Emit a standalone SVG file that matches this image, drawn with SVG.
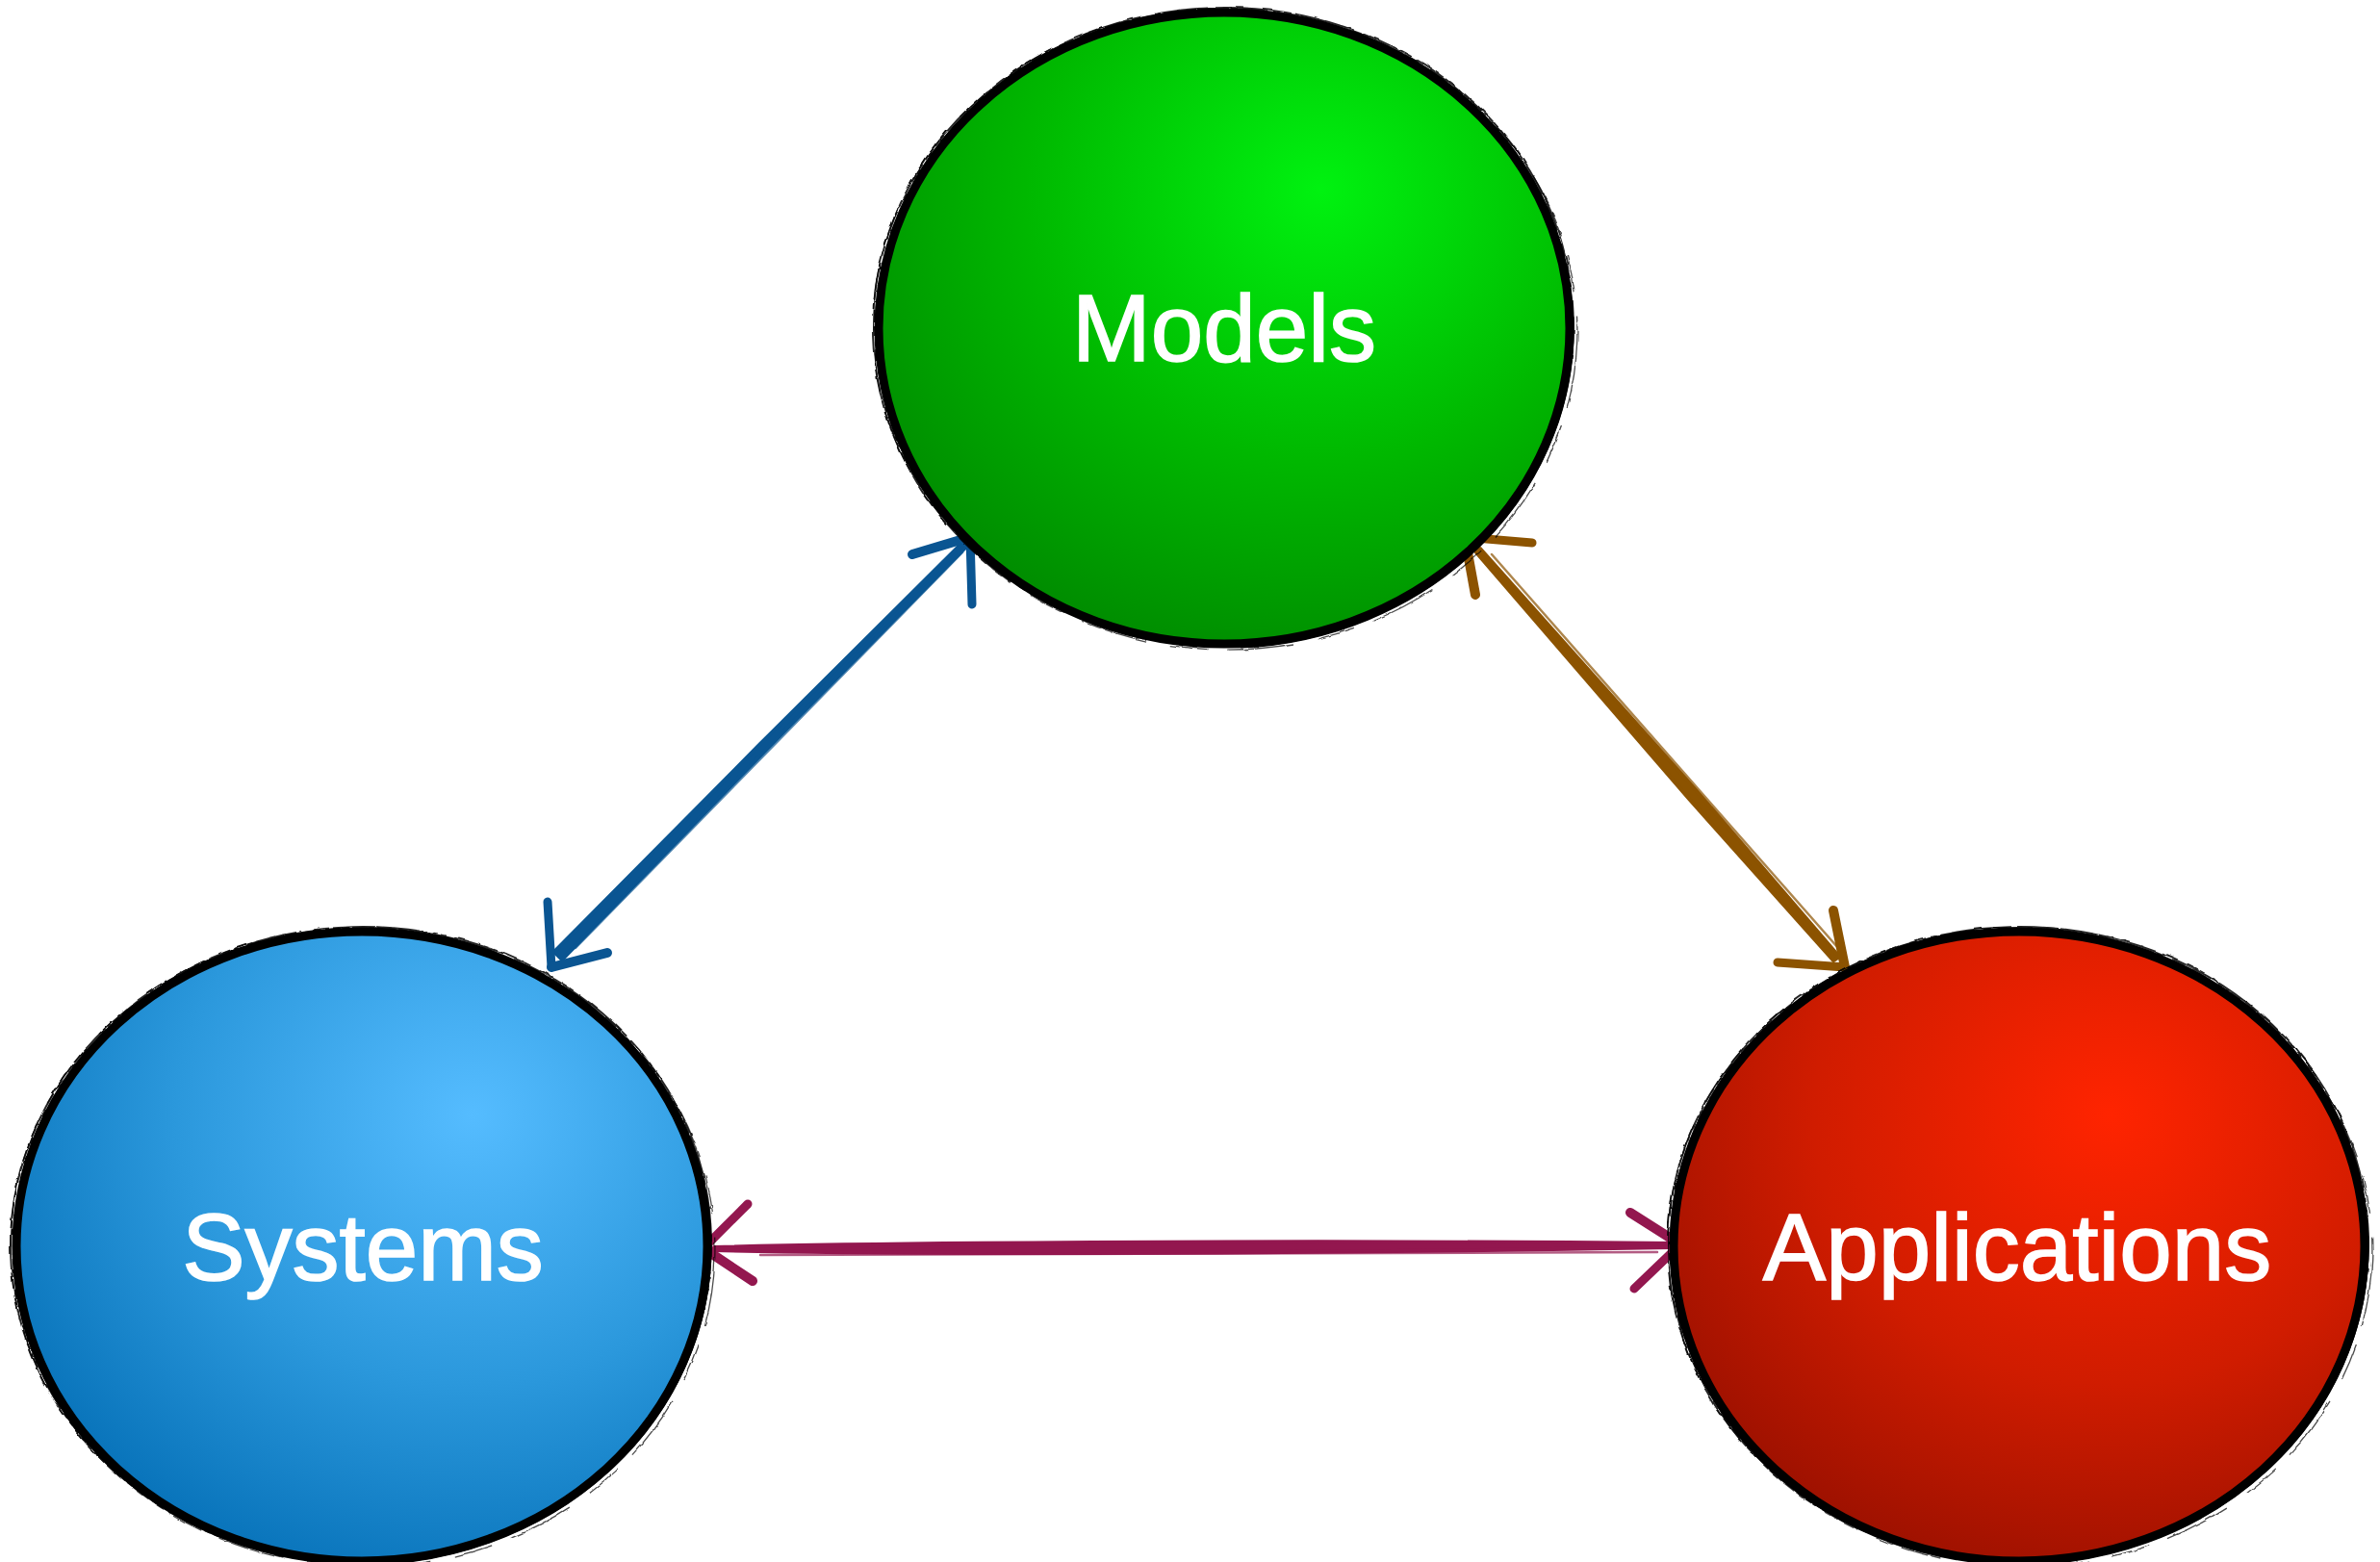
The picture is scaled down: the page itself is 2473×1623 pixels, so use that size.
<svg xmlns="http://www.w3.org/2000/svg" width="2473" height="1623" viewBox="0 0 2473 1623">
  <defs>
    <!-- glossy sphere fills, highlight up and to the right -->
    <radialGradient id="gGreen" cx="0.64" cy="0.28" fx="0.64" fy="0.28" r="0.78">
      <stop offset="0" stop-color="#00f210"/>
      <stop offset="0.55" stop-color="#00b800"/>
      <stop offset="1" stop-color="#008a00"/>
    </radialGradient>
    <radialGradient id="gBlue" cx="0.66" cy="0.29" fx="0.66" fy="0.29" r="0.78">
      <stop offset="0" stop-color="#55bcff"/>
      <stop offset="0.55" stop-color="#2b98dc"/>
      <stop offset="1" stop-color="#0772b9"/>
    </radialGradient>
    <radialGradient id="gRed" cx="0.63" cy="0.29" fx="0.63" fy="0.29" r="0.78">
      <stop offset="0" stop-color="#ff2400"/>
      <stop offset="0.55" stop-color="#d01c00"/>
      <stop offset="1" stop-color="#991000"/>
    </radialGradient>
    <!-- scribbly jitter for the thin outline hairs -->
    <filter id="rough" x="-5%" y="-5%" width="110%" height="110%">
      <feTurbulence type="fractalNoise" baseFrequency="0.08" numOctaves="2" seed="3" result="n"/>
      <feDisplacementMap in="SourceGraphic" in2="n" scale="4" xChannelSelector="R" yChannelSelector="G"/>
    </filter>
  </defs>
  <style>
    .fillshape { stroke: none; }
    .rim { fill: none; stroke: #000; stroke-width: 9; }
    .rim2 { fill: none; stroke: #000; stroke-width: 2; opacity: 0.85; }
    .rim3 { fill: none; stroke: #000; stroke-width: 1.3; stroke-dasharray: 70 20 40 25; opacity: 0.7; }
    .shade { fill: none; stroke: #000; stroke-width: 5; stroke-linecap: round; }
    .label { font-family: "Liberation Sans", Arial, Helvetica, sans-serif; font-size: 98px; fill: #fff; stroke: #fff; stroke-width: 1.6; text-anchor: middle; }
    .stroke { fill: none; stroke-linecap: round; stroke-linejoin: round; }
    .body { stroke-width: 4; stroke-linejoin: round; }
    .blue { stroke: #0a5592; }
    .brown { stroke: #8c5300; }
    .plum { stroke: #93174f; }
  </style>

  <rect width="2473" height="1623" fill="#fff"/>

  <!-- connectors: tapered brush strokes with open double heads -->
  <g id="connectors">
    <g id="systems-models" class="stroke blue">
      <path class="body" fill="#0a5592" d="M576 989 L790 773 L1000 564 L1004 568 L795 780 L584 997 Z"/>
      <path d="M598 985 L1000 574" stroke-width="2.5" opacity="0.7"/>
      <path d="M1008 558 L948 576" stroke-width="10"/>
      <path d="M1008 558 L1010 628" stroke-width="9"/>
      <path d="M573 1005 L569 937" stroke-width="9"/>
      <path d="M573 1005 L631 990" stroke-width="10"/>
    </g>
    <g id="models-applications" class="stroke brown">
      <path class="body" fill="#8c5300" d="M1538 570 L1763 822 L1911 994 L1905 998 L1755 830 L1534 574 Z"/>
      <path d="M1550 576 L1910 985" stroke-width="2.5" opacity="0.7"/>
      <path d="M1522 558 L1592 564" stroke-width="9"/>
      <path d="M1522 558 L1533 618" stroke-width="10"/>
      <path d="M1917 1005 L1905 946" stroke-width="10"/>
      <path d="M1917 1005 L1847 1000" stroke-width="9"/>
    </g>
    <g id="systems-applications" class="stroke plum">
      <path class="body" fill="#93174f" d="M742 1296 C900 1292 1300 1288 1738 1292 L1738 1296 C1300 1304 900 1303 742 1299 Z"/>
      <path d="M790 1304 C1050 1303 1350 1301 1722 1301" stroke-width="2.5" opacity="0.7"/>
      <path d="M731 1297 L777 1251" stroke-width="9"/>
      <path d="M731 1297 L782 1331" stroke-width="10"/>
      <path d="M1746 1293 L1694 1260" stroke-width="10"/>
      <path d="M1746 1293 L1698 1339" stroke-width="9"/>
    </g>
  </g>

  <!-- Models -->
  <g id="models">
    <ellipse class="fillshape" cx="1272" cy="341" rx="358" ry="327" fill="url(#gGreen)"/>
    <ellipse class="rim" cx="1272" cy="341" rx="359" ry="328"/>
    <path class="shade" d="M1633 330 A361 330 0 0 1 1290 671"/>
    <g filter="url(#rough)">
      <ellipse class="rim2" cx="1271" cy="339" rx="364" ry="331" transform="rotate(-1.5 1272 341)"/>
      <ellipse class="rim3" cx="1273" cy="342" rx="366" ry="333" transform="rotate(2 1272 341)"/>
    </g>
    <text class="label" x="1272" y="375">Models</text>
  </g>

  <!-- Systems -->
  <g id="systems">
    <ellipse class="fillshape" cx="376" cy="1295" rx="358" ry="326" fill="url(#gBlue)"/>
    <ellipse class="rim" cx="376" cy="1295" rx="359" ry="327"/>
    <path class="shade" d="M737 1285 A361 329 0 0 1 395 1623"/>
    <g filter="url(#rough)">
      <ellipse class="rim2" cx="375" cy="1293" rx="364" ry="330" transform="rotate(-1.5 376 1295)"/>
      <ellipse class="rim3" cx="377" cy="1296" rx="366" ry="332" transform="rotate(2 376 1295)"/>
    </g>
    <text class="label" x="377" y="1330">Systems</text>
  </g>

  <!-- Applications -->
  <g id="applications">
    <ellipse class="fillshape" cx="2098" cy="1295" rx="358" ry="326" fill="url(#gRed)"/>
    <ellipse class="rim" cx="2098" cy="1295" rx="359" ry="327"/>
    <path class="shade" d="M2459 1285 A361 329 0 0 1 2117 1623"/>
    <g filter="url(#rough)">
      <ellipse class="rim2" cx="2097" cy="1293" rx="364" ry="330" transform="rotate(-1.5 2098 1295)"/>
      <ellipse class="rim3" cx="2099" cy="1296" rx="366" ry="332" transform="rotate(2 2098 1295)"/>
    </g>
    <text class="label" x="2096" y="1330">Applications</text>
  </g>
</svg>
